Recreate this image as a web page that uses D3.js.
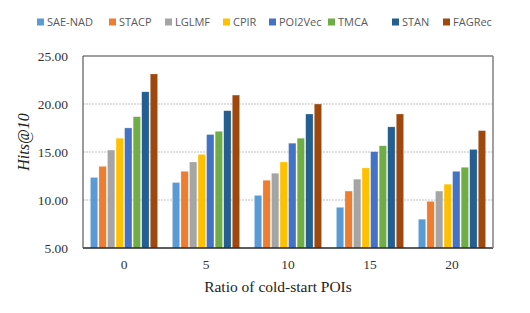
<!DOCTYPE html>
<html>
<head>
<meta charset="utf-8">
<script src="https://cdn.jsdelivr.net/npm/d3@7"></script>
<style>
  body { margin: 0; background: #fff; }
  svg { display: block; }
</style>
</head>
<body>
<svg id="chart" width="530" height="313"></svg>
<script>
// ratios of cold-start POIs (x categories)
var ratios = ['0', '5', '10', '15', '20'];
var methods = ['SAE-NAD', 'STACP', 'LGLMF', 'CPIR', 'POI2Vec', 'TMCA', 'STAN', 'FAGRec'];
var colours = ['#5B9BD5', '#ED7D31', '#A5A5A5', '#FFC000', '#4472C4', '#70AD47', '#255E91', '#9E480E'];

// Hits@10 per method, one value per ratio
var saeNad  = [12.35, 11.82, 10.48, 9.24, 8.00];
var stacp   = [13.51, 12.99, 12.06, 10.93, 9.86];
var lglmf   = [15.20, 13.96, 12.79, 12.17, 10.93];
var cpir    = [16.44, 14.75, 13.96, 13.34, 11.65];
var poi2vec = [17.51, 16.82, 15.92, 15.03, 12.99];
var tmca    = [18.68, 17.16, 16.44, 15.65, 13.41];
var stan    = [21.27, 19.30, 18.96, 17.62, 15.27];
var fagrec  = [23.13, 20.93, 20.00, 18.96, 17.23];

var yTicks = [5, 10, 15, 20, 25];

var series = [saeNad, stacp, lglmf, cpir, poi2vec, tmca, stan, fagrec];

var serif = '"Liberation Serif", "Times New Roman", serif';

var svg = d3.select('#chart');
var margin = {left: 83, right: 37, top: 56, bottom: 65};
var W = 530, H = 313;
var plotW = W - margin.left - margin.right;
var plotH = H - margin.top - margin.bottom;

var x0 = d3.scaleBand().domain(ratios).range([0, plotW]).paddingInner(0.18).paddingOuter(0.09);
var x1 = d3.scaleBand().domain(methods).range([0, x0.bandwidth()]).paddingInner(0.14);
var y = d3.scaleLinear().domain([5, 25]).range([plotH, 0]);

var plot = svg.append('g').attr('transform', 'translate(' + margin.left + ',' + margin.top + ')');

// gridlines
plot.append('g')
  .selectAll('line')
  .data(yTicks.slice(1, -1))
  .enter().append('line')
    .attr('x1', 0).attr('x2', plotW)
    .attr('y1', d => y(d)).attr('y2', d => y(d))
    .attr('stroke', '#BFBFBF')
    .attr('stroke-width', 1)
    .attr('stroke-dasharray', '2,1');

// bars
var groups = plot.selectAll('.grp')
  .data(ratios)
  .enter().append('g')
    .attr('class', 'grp')
    .attr('transform', d => 'translate(' + x0(d) + ',0)');

groups.each(function(r, ri) {
  d3.select(this).selectAll('rect')
    .data(methods)
    .enter().append('rect')
      .attr('x', m => x1(m))
      .attr('width', x1.bandwidth())
      .attr('y', (m, mi) => y(series[mi][ri]))
      .attr('height', (m, mi) => plotH - y(series[mi][ri]))
      .attr('fill', (m, mi) => colours[mi])
      .attr('stroke', '#fff')
      .attr('stroke-opacity', 0.5)
      .attr('stroke-width', 0.5);
});

// frame
plot.append('line').attr('x1', 0).attr('x2', plotW).attr('y1', 0).attr('y2', 0)
  .attr('stroke', '#404040').attr('stroke-width', 1.2);
plot.append('line').attr('x1', 0).attr('x2', plotW).attr('y1', plotH).attr('y2', plotH)
  .attr('stroke', '#262626').attr('stroke-width', 1.5);
plot.append('line').attr('x1', 0).attr('x2', 0).attr('y1', 0).attr('y2', plotH)
  .attr('stroke', '#595959').attr('stroke-width', 1.2);
plot.append('line').attr('x1', plotW).attr('x2', plotW).attr('y1', 0).attr('y2', plotH)
  .attr('stroke', '#808080').attr('stroke-width', 1.5);

// y axis
var yAxis = plot.append('g')
  .call(d3.axisLeft(y).tickValues(yTicks).tickFormat(d3.format('.2f')).tickSize(0).tickPadding(15));
yAxis.attr('font-family', null).attr('font-size', null);
yAxis.select('.domain').remove();
yAxis.selectAll('text')
  .style('font-family', serif)
  .style('font-size', '13.5px')
  .attr('fill', '#333');

// x axis
var xAxis = plot.append('g')
  .attr('transform', 'translate(0,' + plotH + ')')
  .call(d3.axisBottom(x0).tickSize(0).tickPadding(11));
xAxis.attr('font-family', null).attr('font-size', null);
xAxis.select('.domain').remove();
xAxis.selectAll('text')
  .style('font-family', serif)
  .style('font-size', '13.5px')
  .attr('fill', '#333');

// axis titles
svg.append('text')
  .attr('x', margin.left + plotW / 2 - 10)
  .attr('y', 292)
  .attr('text-anchor', 'middle')
  .style('font-family', serif)
  .style('font-size', '15.5px')
  .attr('fill', '#222')
  .text('Ratio of cold-start POIs');

svg.append('text')
  .attr('transform', 'translate(29,' + (margin.top + plotH / 2 - 10) + ') rotate(-90)')
  .attr('text-anchor', 'middle')
  .style('font-family', serif)
  .style('font-style', 'italic')
  .style('font-size', '16px')
  .attr('fill', '#222')
  .text('Hits@10');

// legend
var legendX = [37, 109, 165, 223, 269, 328, 392, 443];
var legend = svg.append('g').selectAll('g')
  .data(methods)
  .enter().append('g')
    .attr('transform', (d, i) => 'translate(' + legendX[i] + ',22)');
legend.append('rect')
  .attr('x', 0).attr('y', -3.5)
  .attr('width', 7).attr('height', 7)
  .attr('fill', (d, i) => colours[i]);
legend.append('text')
  .attr('x', 10).attr('y', 4)
  .style('font-family', '"Open Sans", "Liberation Sans", sans-serif')
  .style('font-size', '11px')
  .attr('fill', '#595959')
  .text(d => d);
</script>
</body>
</html>
